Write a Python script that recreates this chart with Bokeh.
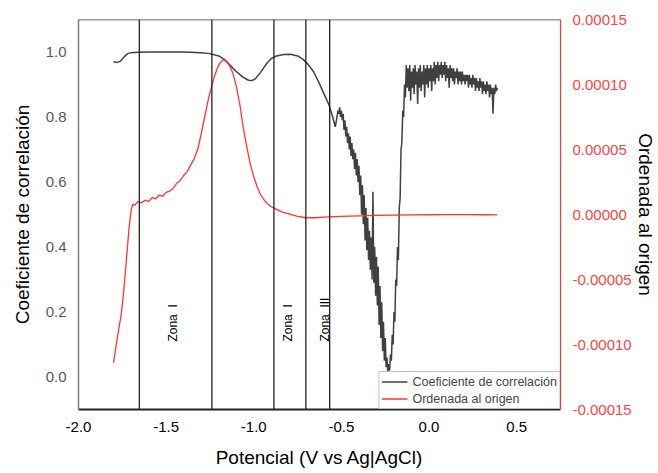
import numpy as np
from bokeh.plotting import figure
from bokeh.models import (Range1d, LinearAxis, FixedTicker, NumeralTickFormatter,
                          Span, Legend, LegendItem, ColumnDataSource)
from bokeh.core.properties import value
from bokeh.embed import file_html
from bokeh.resources import INLINE

# ---------------- data ----------------
# Coeficiente de correlación (smooth part)
corr_x_smooth = [-1.80, -1.78, -1.76, -1.74, -1.72, -1.70, -1.66, -1.60, -1.50, -1.40,
                 -1.30, -1.25, -1.20, -1.17, -1.14, -1.10, -1.06, -1.03, -1.01, -0.99,
                 -0.96, -0.93, -0.90, -0.87, -0.83, -0.79, -0.75, -0.72, -0.69, -0.66,
                 -0.63, -0.60, -0.57]
corr_y_smooth = [0.970, 0.968, 0.972, 0.985, 0.995, 0.998, 0.999, 1.000, 1.000, 1.000,
                 0.998, 0.995, 0.988, 0.978, 0.962, 0.940, 0.922, 0.913, 0.912, 0.918,
                 0.938, 0.962, 0.980, 0.988, 0.992, 0.993, 0.988, 0.978, 0.962, 0.940,
                 0.908, 0.872, 0.836]

# Coeficiente de correlación, noisy part, sampled every 0.005 V
# region A: -0.550 ... -0.490
corr_a_range = (-0.550, -0.490)
corr_a_y = [0.80, 0.79, 0.78, 0.77, 0.785, 0.80, 0.82, 0.81, 0.83, 0.80, 0.82, 0.79, 0.81]
# region B: -0.485 ... -0.250
corr_b_range = (-0.485, -0.250)
corr_b_y = [0.76, 0.79, 0.74, 0.77, 0.72, 0.75, 0.70, 0.74, 0.68, 0.72,
            0.67, 0.70, 0.64, 0.69, 0.62, 0.67, 0.60, 0.65, 0.56, 0.62,
            0.50, 0.59, 0.47, 0.56, 0.42, 0.52, 0.39, 0.49, 0.36, 0.45,
            0.33, 0.43, 0.30, 0.57, 0.29, 0.40, 0.25, 0.37, 0.22, 0.34,
            0.16, 0.28, 0.12, 0.23, 0.08, 0.17, 0.05, 0.12]
# region C: -0.245 ... -0.130
corr_c_range = (-0.245, -0.130)
corr_c_y = [0.03, 0.06, 0.01, 0.04, 0.02, 0.07, 0.05, 0.13, 0.10, 0.20,
            0.17, 0.30, 0.28, 0.40, 0.36, 0.52, 0.55, 0.70, 0.72, 0.82,
            0.80, 0.90, 0.86, 0.96]
# region D: -0.125 ... 0.390
corr_d_range = (-0.125, 0.390)
corr_d_y = [0.89, 0.95, 0.88, 0.96, 0.85, 0.94, 0.89, 0.95, 0.87, 0.96,
            0.90, 0.94, 0.84, 0.95, 0.89, 0.96, 0.88, 0.94, 0.90, 0.96,
            0.86, 0.95, 0.90, 0.96, 0.89,
            0.95, 0.91, 0.96, 0.88, 0.95, 0.91, 0.97, 0.90, 0.96, 0.92,
            0.97, 0.91, 0.96, 0.93, 0.97, 0.92, 0.96, 0.93, 0.97, 0.91,
            0.96, 0.92, 0.95, 0.89, 0.96, 0.92, 0.95, 0.91, 0.95, 0.90,
            0.94, 0.92, 0.95, 0.90, 0.94, 0.91, 0.94, 0.90, 0.94, 0.91,
            0.93, 0.90, 0.93, 0.91, 0.93, 0.89, 0.93, 0.90, 0.92, 0.89,
            0.93, 0.90, 0.92, 0.88, 0.92, 0.89, 0.91, 0.88, 0.92, 0.89,
            0.91, 0.87, 0.91, 0.88, 0.90, 0.87, 0.91, 0.88, 0.90, 0.86,
            0.90, 0.87, 0.89, 0.81, 0.89, 0.87, 0.90, 0.88, 0.89]

# Ordenada al origen (units of 1e-5)
ord_x = [-1.80, -1.79, -1.78, -1.77, -1.76, -1.75, -1.74, -1.73, -1.72, -1.71,
         -1.70, -1.69, -1.68, -1.66, -1.64, -1.62, -1.60, -1.58, -1.56, -1.54,
         -1.52, -1.50, -1.48, -1.46, -1.44, -1.42, -1.40, -1.38, -1.36, -1.34,
         -1.32, -1.30, -1.28, -1.26, -1.24, -1.22, -1.20, -1.18, -1.17, -1.16,
         -1.14, -1.12, -1.10, -1.08, -1.06, -1.04, -1.02, -1.00, -0.98, -0.96,
         -0.94, -0.92, -0.90, -0.87, -0.84, -0.80, -0.75, -0.70, -0.65, -0.60,
         -0.50, -0.40, -0.30, -0.20, -0.10, 0.00, 0.10, 0.20, 0.30, 0.39]
ord_y_e5 = [-11.4, -10.5, -9.6, -8.8, -8.0, -7.0, -5.6, -4.0, -2.4, -0.8,
            0.3, 0.8, 0.7, 1.0, 0.9, 1.1, 1.0, 1.3, 1.2, 1.5,
            1.4, 1.7, 1.8, 2.0, 2.4, 2.6, 3.0, 3.3, 3.8, 4.3,
            5.0, 6.2, 7.5, 8.8, 9.9, 10.8, 11.5, 11.85, 11.9, 11.8,
            11.5, 10.9, 9.9, 8.5, 6.7, 5.2, 3.9, 2.9, 2.1, 1.5,
            1.1, 0.8, 0.6, 0.4, 0.2, 0.05, -0.15, -0.25, -0.25, -0.2,
            -0.15, -0.1, -0.07, -0.05, -0.03, -0.02, -0.01, -0.01, -0.02, -0.03]

zone_lines_x = [-1.653, -1.239, -0.885, -0.703, -0.567]
zone_labels = ["Zona\u00a0\u00a0I", "Zona\u00a0\u00a0I", "Zona\u00a0\u00a0III"]
zone_labels_x = [-1.46, -0.805, -0.595]
zone_labels_y = [0.109, 0.109, 0.109]

x_ticks = [-2.0, -1.5, -1.0, -0.5, 0.0, 0.5]
y_ticks = [0.0, 0.2, 0.4, 0.6, 0.8, 1.0]
y2_ticks = [-0.00015, -0.00010, -0.00005, 0.0, 0.00005, 0.00010, 0.00015]

# ---------------- build ----------------
def grid(rng, vals):
    return list(np.round(np.linspace(rng[0], rng[1], len(vals)), 4))

corr_x = (corr_x_smooth + grid(corr_a_range, corr_a_y) + grid(corr_b_range, corr_b_y)
          + grid(corr_c_range, corr_c_y) + grid(corr_d_range, corr_d_y))
corr_y = corr_y_smooth + corr_a_y + corr_b_y + corr_c_y + corr_d_y
ord_y = [v * 1e-5 for v in ord_y_e5]

FONT = "Liberation Sans"
BLACK_LINE = "#404040"
RED = "#ff3333"

p = figure(width=658, height=470, output_backend="svg", toolbar_location=None,
           x_range=Range1d(-2.0, 0.75), y_range=Range1d(-0.1, 1.1),
           min_border_left=78, min_border_right=97, min_border_top=19, min_border_bottom=60)
p.outline_line_color = None
p.xgrid.visible = False
p.ygrid.visible = False
p.background_fill_color = "white"
p.border_fill_color = "white"

p.extra_y_ranges = {"right": Range1d(-0.00015, 0.00015)}

for zx in zone_lines_x:
    p.add_layout(Span(location=zx, dimension="height", line_color="#222222", line_width=1.3))

p.add_layout(Span(location=1.1, dimension="width", line_color="#333333", line_width=1.5))

r_corr = p.line(corr_x, corr_y, line_color=BLACK_LINE, line_width=1.5)
r_ord = p.line(ord_x, ord_y, line_color=RED, line_width=1.3, y_range_name="right")

src = ColumnDataSource(dict(x=zone_labels_x, y=zone_labels_y, t=zone_labels))
p.text(x="x", y="y", text="t", source=src, angle=np.pi / 2, text_align="left",
       text_baseline="middle", text_font=value(FONT), text_font_size="12px",
       text_color="black")

xa = p.xaxis[0]
xa.ticker = FixedTicker(ticks=x_ticks)
xa.formatter = NumeralTickFormatter(format="0.0")
xa.axis_label = "Potencial (V vs Ag|AgCl)"
ya = p.yaxis[0]
ya.ticker = FixedTicker(ticks=y_ticks)
ya.formatter = NumeralTickFormatter(format="0.0")
ya.axis_label = "Coeficiente de correlación"

ya2 = LinearAxis(y_range_name="right", ticker=FixedTicker(ticks=y2_ticks),
                 formatter=NumeralTickFormatter(format="0.00000"),
                 axis_label="Ordenada al origen")
p.add_layout(ya2, "right")

for ax, lc, tc in [(xa, "#222222", "black"), (ya, "#7f7f7f", "#595959"), (ya2, RED, "#ff4444")]:
    ax.major_tick_out = 0
    ax.major_tick_in = 0
    ax.minor_tick_out = 0
    ax.minor_tick_in = 0
    ax.axis_line_color = lc
    ax.major_label_text_color = tc
    ax.major_label_text_font = FONT
    ax.major_label_text_font_size = "15px"
    ax.major_label_standoff = 12
    ax.axis_label_text_font = FONT
    ax.axis_label_text_font_size = "19px"
    ax.axis_label_text_font_style = "normal"
    ax.axis_label_text_color = "black"
xa.axis_line_width = 2
ya.axis_line_width = 1.5
ya2.axis_line_width = 1.2
xa.axis_label_standoff = 12
ya.axis_label_standoff = 10
ya2.axis_label_standoff = 0

legend = Legend(items=[LegendItem(label="Coeficiente de correlación", renderers=[r_corr]),
                       LegendItem(label="Ordenada al origen", renderers=[r_ord])],
                location="bottom_right", margin=0, padding=2, spacing=2,
                glyph_width=26, glyph_height=15, label_height=15, label_standoff=5,
                label_text_font=FONT, label_text_font_size="12.5px",
                border_line_color="#808080", border_line_width=1,
                background_fill_color="white", background_fill_alpha=1.0)
p.add_layout(legend, "center")

open("out.html", "w").write(file_html(p, INLINE))
